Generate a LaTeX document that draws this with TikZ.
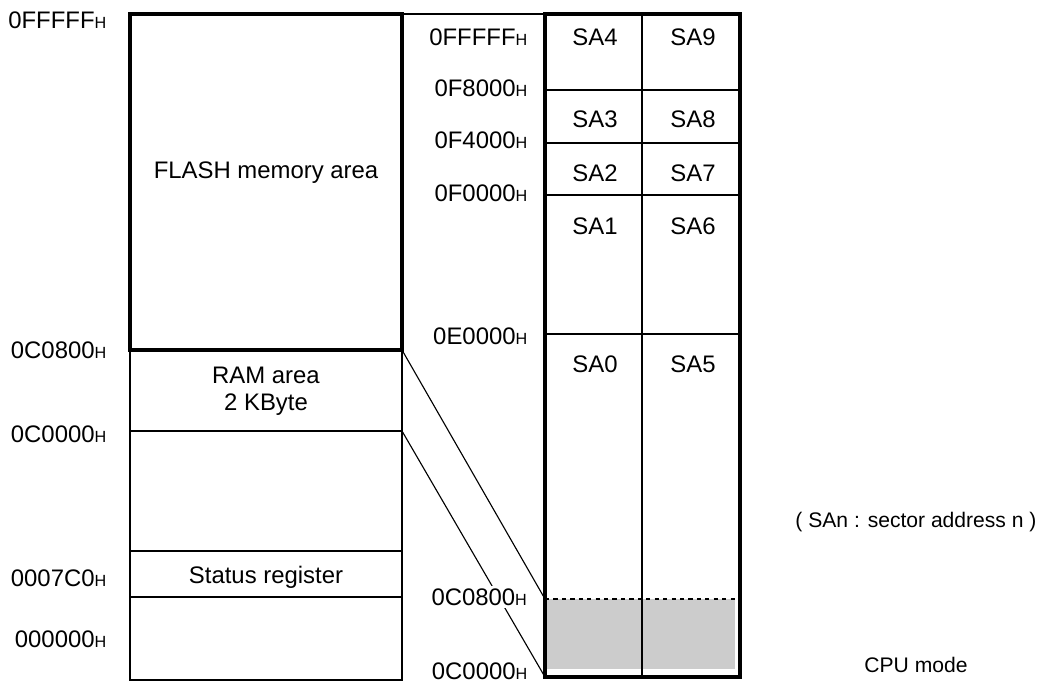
\documentclass[tikz,border=0pt]{standalone}
\usepackage{fontspec}
\setmainfont{Liberation Sans}
\newcommand{\addr}[1]{#1{\fontsize{11.5}{11.5}\selectfont H}}
\tikzset{
  memtext/.style={font=\fontsize{17}{19.5}\selectfont,inner sep=1pt},
  addrlbl/.style={memtext,anchor=east},
  notetext/.style={font=\fontsize{15}{18}\selectfont},
  thinline/.style={line width=0.8pt},
  thickline/.style={line width=2.3pt}
}
\begin{document}
\begin{tikzpicture}[x=0.25mm,y=-0.25mm]
  \useasboundingbox (0,0) rectangle (1042,683);
  \coordinate (mapNE) at (402,14);
  \coordinate (flashSE) at (402,350);
  \coordinate (ramSE) at (402,431);
  \coordinate (secNW) at (545,14);
  \coordinate (secTop) at (545,599);
  \coordinate (secBot) at (545,677);
  \draw[thinline] (130,350) rectangle (402,680);
  \foreach \y in {431,551,597}
    \draw[thinline] (130,\y) -- (402,\y);
  \draw[thickline] (130,14) rectangle (mapNE |- flashSE);
  \node[memtext] (flash) at (266,173) {FLASH memory area};
  \node[memtext,align=center] (ram) at (266,391) {RAM area\\2 KByte};
  \node[memtext] (status) at (266,577) {Status register};
  \foreach \y/\a in {20/0FFFFF,350/0C0800,434/0C0000,578/0007C0,639/000000}
    \node[addrlbl] (l\a) at (108,\y) {\addr{\a}};
  \fill[gray!40] (547,599) rectangle (735,669);
  \draw[thinline,dashed] (secTop) -- (740,599);
  \draw[thinline] (642,14) -- (642,677);
  \foreach \y in {90,143,195,334}
    \draw[thinline] (545,\y) -- (740,\y);
  \draw[thickline] (secNW) rectangle (740,677);
  \foreach \y/\a/\b in {37/4/9,119/3/8,173/2/7,226/1/6,364/0/5} {
    \node[memtext] (sa\a) at (595,\y) {SA\a};
    \node[memtext] (sa\b) at (693,\y) {SA\b};
  }
  \draw[thinline] (mapNE) -- (secNW);
  \draw[thinline] (flashSE) -- (secTop);
  \draw[thinline] (ramSE) -- (secBot);
  \foreach \y/\a in {37/0FFFFF,88/0F8000,140/0F4000,193/0F0000,336/0E0000,671/0C0000}
    \node[addrlbl] (r\a) at (529,\y) {\addr{\a}};
  \node[addrlbl,fill=white,inner sep=2pt] (r0C0800) at (530,597) {\addr{0C0800}};
  \node[notetext] (note) at (916,522) {( SAn : sector address n )};
  \node[notetext] (mode) at (916,665) {CPU mode};
\end{tikzpicture}
\end{document}
